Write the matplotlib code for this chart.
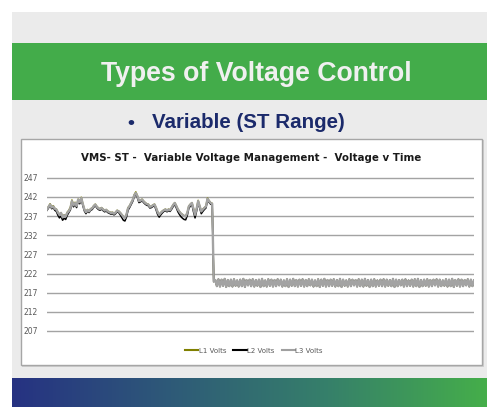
import numpy as np
import matplotlib
matplotlib.use('Agg')
import matplotlib.pyplot as plt
from matplotlib.patches import Rectangle
from matplotlib.lines import Line2D
from matplotlib.colors import LinearSegmentedColormap

# ---------------- data ----------------
y_ticks = [207, 212, 217, 222, 227, 232, 237, 242, 247]
series_names = ["L1 Volts", "L2 Volts", "L3 Volts"]

# variable section (before the voltage management kicks in)
l3_before = [238.7, 239.4, 240.0, 239.2, 239.5, 238.9, 238.7, 237.9, 237.3, 237.8,
             236.7, 237.2, 236.9, 237.8, 238.3, 239.0, 240.9, 239.8, 240.4, 239.6,
             241.3, 240.6, 241.7, 240.1, 238.7, 238.0, 238.6, 238.2, 238.8, 239.0,
             239.6, 240.0, 239.4, 239.0, 238.8, 239.1, 238.7, 238.4, 238.6, 238.2,
             238.0, 237.8, 237.9, 237.6, 237.9, 238.4, 238.2, 237.8, 237.3, 236.8,
             236.5, 237.4, 239.0, 239.6, 240.4, 241.2, 242.4, 243.0, 242.2, 240.9,
             241.0, 241.3, 240.8, 240.4, 240.1, 240.0, 239.4, 239.5, 239.8, 240.0,
             239.1, 238.0, 237.3, 237.8, 238.2, 238.5, 238.7, 238.4, 238.7, 238.5,
             239.2, 239.9, 240.4, 239.6, 238.7, 238.1, 237.6, 237.3, 237.0, 236.9,
             237.8, 239.5, 240.0, 240.4, 238.8, 237.3, 238.9, 240.9, 239.5, 238.2,
             238.7, 239.1, 239.5, 241.5, 240.9, 240.4, 240.2]
l2_before = [238.5, 239.1, 239.8, 238.9, 239.2, 238.5, 238.2, 237.2, 236.5, 237.0,
             235.9, 236.4, 236.1, 237.2, 237.9, 238.6, 240.4, 239.4, 240.0, 239.2,
             240.9, 240.2, 241.4, 239.7, 238.3, 237.6, 238.3, 237.9, 238.5, 238.7,
             239.3, 239.7, 239.1, 238.7, 238.5, 238.8, 238.4, 238.1, 238.3, 237.9,
             237.7, 237.5, 237.6, 237.3, 237.6, 238.1, 237.9, 237.3, 236.6, 235.9,
             235.7, 236.7, 238.5, 239.2, 240.0, 240.8, 242.0, 242.7, 241.8, 240.5,
             240.7, 241.0, 240.5, 240.1, 239.8, 239.7, 239.1, 239.2, 239.5, 239.7,
             238.6, 237.4, 236.7, 237.3, 237.8, 238.2, 238.4, 238.1, 238.4, 238.2,
             238.8, 239.5, 240.0, 239.1, 238.1, 237.4, 236.8, 236.4, 236.1, 236.0,
             237.1, 239.0, 239.6, 240.0, 238.1, 236.5, 238.3, 240.5, 239.0, 237.6,
             238.2, 238.7, 239.1, 241.1, 240.6, 240.1, 239.9]
l1_before = [238.8, 239.5, 240.2, 239.3, 239.7, 239.0, 238.8, 238.0, 237.4, 237.9,
             236.8, 237.3, 237.0, 238.0, 238.5, 239.3, 241.2, 240.0, 240.6, 239.7,
             241.4, 240.7, 241.9, 240.2, 238.8, 238.1, 238.7, 238.3, 238.9, 239.1,
             239.7, 240.1, 239.5, 239.1, 238.9, 239.2, 238.8, 238.5, 238.7, 238.3,
             238.1, 237.9, 238.0, 237.7, 238.0, 238.5, 238.3, 237.9, 237.4, 236.9,
             236.6, 237.5, 239.2, 239.7, 240.5, 241.3, 242.6, 243.3, 242.3, 241.0,
             241.1, 241.4, 240.9, 240.5, 240.2, 240.1, 239.5, 239.6, 239.9, 240.1,
             239.2, 238.1, 237.4, 237.9, 238.3, 238.6, 238.8, 238.5, 238.8, 238.6,
             239.3, 240.0, 240.5, 239.7, 238.8, 238.2, 237.7, 237.4, 237.1, 237.0,
             237.9, 239.6, 240.1, 240.5, 238.9, 237.4, 239.0, 241.1, 239.6, 238.3,
             238.8, 239.2, 239.6, 241.7, 241.0, 240.5, 240.3]

# managed section (all three phases overlap)
managed = [219.9, 220.3, 218.7, 220.5, 218.6, 220.4, 218.8, 220.6, 218.5, 220.3, 218.7, 220.4,
           218.6, 220.5, 218.8, 220.2, 218.6, 220.4, 218.7, 220.6, 218.5, 220.3, 218.9, 220.4,
           218.7, 220.5, 218.6, 220.3, 218.8, 220.4, 218.5, 220.6, 218.7, 220.2, 218.6, 220.5,
           218.8, 220.4, 218.6, 220.3, 218.7, 220.5, 218.9, 220.4, 218.6, 220.2, 218.7, 220.5,
           218.5, 220.4, 218.8, 220.6, 218.7, 220.3, 218.6, 220.4, 218.8, 220.5, 218.6, 220.3,
           218.7, 220.5, 218.9, 220.4, 218.6, 220.2, 218.7, 220.5, 218.5, 220.4, 218.8, 220.6,
           218.6, 220.3, 218.7, 220.4, 218.8, 220.5, 218.6, 220.3, 218.7, 220.6, 218.5, 220.4,
           218.8, 220.2, 218.6, 220.5, 218.7, 220.4, 218.9, 220.3, 218.6, 220.5, 218.7, 220.4,
           218.6, 220.6, 218.8, 220.3, 218.5, 220.4, 218.7, 220.5, 218.6, 220.2, 218.8, 220.4,
           218.7, 220.5, 218.6, 220.4, 218.8, 220.3, 218.7, 220.6, 218.5, 220.4, 218.7, 220.3,
           218.9, 220.4, 218.6, 220.5, 218.7, 220.2, 218.8, 220.4, 218.6, 220.5, 218.7, 220.6,
           218.5, 220.3, 218.7, 220.4, 218.8, 220.5, 218.6, 220.3, 218.7, 220.4, 218.9, 220.5,
           218.6, 220.4, 218.7, 220.2, 218.8, 220.5, 218.6, 220.4, 218.7, 220.6, 218.5, 220.3,
           218.8, 220.5, 218.6, 220.4, 218.7, 220.3, 218.9, 220.5, 218.6, 220.4, 218.7, 220.2]

l1 = l1_before + managed
l2 = l2_before + managed
l3 = l3_before + managed
t = np.arange(len(l3))

# ---------------- figure ----------------
W, H = 487, 407
fig = plt.figure(figsize=(W / 100, H / 100), dpi=100)
fig.patch.set_facecolor('white')


def fx(px):
    return px / W


def fy(py):
    return 1 - py / H


def rect(x0, y0, x1, y1, **kw):
    fig.add_artist(Rectangle((fx(x0), fy(y1)), (x1 - x0) / W, (y1 - y0) / H,
                             transform=fig.transFigure, zorder=-10, **kw))


# slide background
rect(12, 12, 487, 378, facecolor='#ebebeb', edgecolor='none')
rect(12, 43, 487, 100, facecolor='#43ac4a', edgecolor='none')
# chart box (with a faint shadow)
rect(22, 140, 483.5, 366.5, facecolor='#cfcfcf', edgecolor='none')
rect(21, 139, 482, 365, facecolor='white', edgecolor='#a6a6a6', linewidth=1.0)

# bottom gradient bar
gax = fig.add_axes([fx(12), 0, (487 - 12) / W, (407 - 378) / H])
cmap = LinearSegmentedColormap.from_list('g', ['#263282', '#2e5a78', '#36806a', '#45ae4a'])
gax.imshow(np.linspace(0, 1, 256)[None, :], aspect='auto', cmap=cmap)
gax.axis('off')

# slide texts
title_font = ['Liberation Sans', 'DejaVu Sans']
fig.text(fx(256), fy(81), 'Types of Voltage Control', ha='center', va='baseline',
         color='#f0f0f0', fontsize=19.2, fontweight='bold', family=title_font)
fig.text(fx(131), fy(128), '•', ha='center', va='baseline',
         color='#1b2a6b', fontsize=14, fontweight='bold', family=title_font)
fig.text(fx(152), fy(128), 'Variable (ST Range)', ha='left', va='baseline',
         color='#1b2a6b', fontsize=14.8, fontweight='bold', family=title_font)

# chart title
fig.text(fx(251.5), fy(160.5), 'VMS- ST -  Variable Voltage Management -  Voltage v Time',
         ha='center', va='baseline', color='#1a1a1a', fontsize=7.4, fontweight='bold',
         family=['DejaVu Sans'])

# plot area (limits padded a little so the edge gridlines are not clipped)
pad_v = 0.4
ppv = (331 - 177.7) / 40.0
ax = fig.add_axes([fx(47), fy(331 + pad_v * ppv), (474 - 47) / W,
                   (331 - 177.7 + 2 * pad_v * ppv) / H])
ax.set_facecolor('none')
ax.plot(t, l1, color='#808000', lw=1.1, zorder=3)
ax.plot(t, l2, color='#000000', lw=1.1, zorder=4)
ax.plot(t, l3, color='#a3a3a3', lw=1.7, zorder=5)
ax.set_xlim(t[0], t[-1])
ax.set_ylim(207 - pad_v, 247 + pad_v)
ax.set_yticks(y_ticks)
ax.set_xticks([])
ax.grid(axis='y', color='#a3a3a3', lw=1.0, zorder=1)
for s in ax.spines.values():
    s.set_visible(False)
ax.tick_params(axis='y', length=0, pad=6.5, labelsize=5.5, labelcolor='#595959')

handles = [Line2D([], [], color='#808000', lw=1.5),
           Line2D([], [], color='#000000', lw=1.5),
           Line2D([], [], color='#a0a0a0', lw=1.5)]
leg = fig.legend(handles, series_names, loc='center', bbox_to_anchor=(fx(254), fy(350.7)),
                 ncol=3, frameon=False, fontsize=5, handlelength=1.9, handletextpad=0.1,
                 columnspacing=1.0, borderpad=0)
for txt in leg.get_texts():
    txt.set_color('#595959')

fig.savefig('out.png', dpi=100)
